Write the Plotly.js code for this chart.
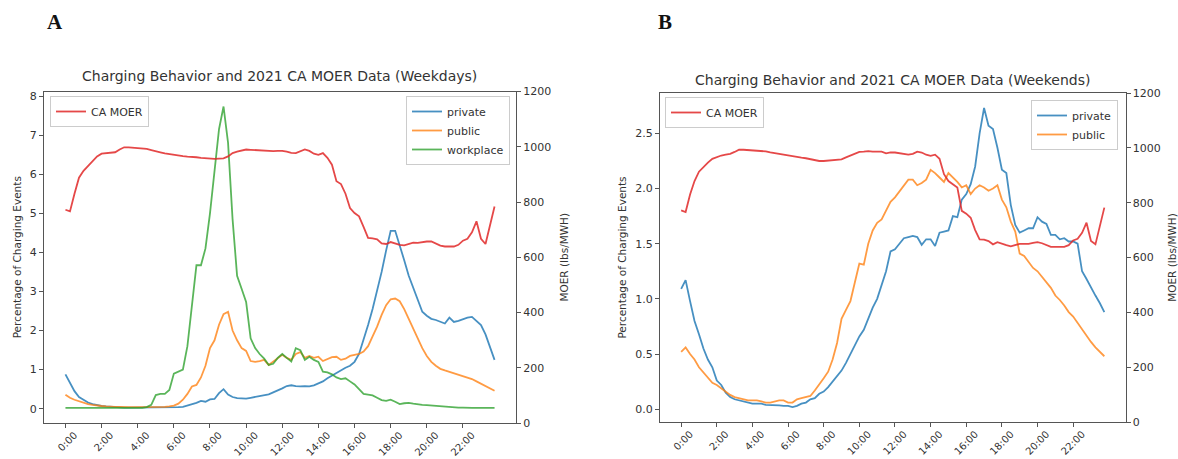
<!DOCTYPE html>
<html>
<head>
<meta charset="utf-8">
<script src="https://cdn.plot.ly/plotly-3.0.1.min.js"></script>
<style>html,body{margin:0;padding:0;background:#fff}#chart{width:1178px;height:459px}</style>
</head>
<body>
<div id="chart"></div>
<script>
// 15-minute time slots (categories)
const timeSlots = [];
for (let h = 0; h < 24; h++) for (let m = 0; m < 60; m += 15) timeSlots.push(h + ":" + (m === 0 ? "00" : m));
const tickLabels = ["0:00","2:00","4:00","6:00","8:00","10:00","12:00","14:00","16:00","18:00","20:00","22:00"];

// Panel A (weekdays)
const moerWeekday = [
 772,766,830,888, 913,930,950,965, 975,977,978,980, 990,998,998,997,
 996,995,992,988, 983,980,976,973, 971,968,966,964, 964,962,960,958,
 957,956,957,958, 965,977,982,986, 990,989,988,987, 985,983,984,985,
 985,982,978,977, 984,990,985,975, 971,977,960,935, 875,865,830,778,
 760,748,710,670, 668,665,650,648, 655,650,645,643, 648,653,652,655,
 657,657,650,642, 639,639,639,645, 660,667,690,730, 667,648,716,784];
const privateWeekday = [
 0.88,0.65,0.45,0.30, 0.22,0.16,0.12,0.09, 0.07,0.06,0.05,0.04, 0.04,0.03,0.03,0.03,
 0.03,0.03,0.03,0.03, 0.03,0.03,0.03,0.03, 0.03,0.04,0.05,0.08, 0.12,0.15,0.20,0.18,
 0.24,0.25,0.40,0.50, 0.36,0.30,0.27,0.26, 0.26,0.28,0.30,0.33, 0.35,0.37,0.42,0.46,
 0.52,0.58,0.60,0.58, 0.57,0.58,0.57,0.60, 0.65,0.70,0.78,0.85, 0.90,0.98,1.05,1.10,
 1.20,1.40,1.75,2.14, 2.55,3.00,3.50,4.05, 4.55,4.55,4.20,3.80, 3.40,3.10,2.75,2.48,
 2.38,2.30,2.27,2.22, 2.18,2.33,2.22,2.25, 2.30,2.33,2.35,2.25, 2.14,1.90,1.55,1.25];
const publicWeekday = [
 0.36,0.28,0.23,0.19, 0.15,0.12,0.10,0.08, 0.07,0.06,0.05,0.05, 0.05,0.04,0.04,0.04,
 0.04,0.04,0.04,0.04, 0.05,0.05,0.05,0.06, 0.08,0.13,0.23,0.38, 0.57,0.61,0.80,1.10,
 1.55,1.75,2.15,2.42, 2.48,2.00,1.75,1.55, 1.48,1.22,1.20,1.22, 1.25,1.12,1.20,1.30,
 1.38,1.30,1.25,1.40, 1.45,1.30,1.35,1.30, 1.33,1.22,1.28,1.32, 1.33,1.25,1.28,1.35,
 1.38,1.40,1.46,1.60, 1.85,2.10,2.40,2.65, 2.80,2.82,2.75,2.55, 2.30,2.05,1.80,1.55,
 1.35,1.20,1.10,1.02, 0.98,0.94,0.90,0.88, 0.84,0.80,0.76,0.70, 0.64,0.58,0.52,0.46];
const workplaceWeekday = [
 0.02,0.02,0.02,0.02, 0.02,0.02,0.02,0.02, 0.02,0.02,0.02,0.02, 0.02,0.02,0.02,0.02,
 0.02,0.02,0.04,0.10, 0.35,0.38,0.38,0.48, 0.90,0.95,1.00,1.60, 2.60,3.67,3.67,4.10,
 5.00,6.10,7.15,7.73, 6.80,4.85,3.40,3.07, 2.73,1.80,1.55,1.40, 1.28,1.12,1.15,1.30,
 1.40,1.30,1.21,1.55, 1.50,1.25,1.33,1.25, 1.20,0.95,0.93,0.88, 0.80,0.76,0.78,0.70,
 0.62,0.50,0.38,0.36, 0.34,0.28,0.22,0.20, 0.23,0.18,0.12,0.14, 0.15,0.13,0.11,0.10,
 0.09,0.08,0.07,0.06, 0.05,0.04,0.03,0.03, 0.03,0.02,0.02,0.02, 0.02,0.02,0.02,0.02];

// Panel B (weekends)
const moerWeekend = [
 772,766,830,879, 913,930,946,960, 967,972,975,978, 985,993,993,992,
 991,991,990,987, 983,980,977,974, 971,969,966,964, 962,958,955,952,
 952,953,955,955, 958,965,972,978, 985,986,988,986, 985,986,980,983,
 983,980,977,975, 978,986,983,975, 971,975,960,904, 879,867,855,770,
 760,745,700,666, 665,660,648,656, 650,645,641,645, 650,650,650,653,
 656,652,645,639, 639,639,639,645, 662,668,690,727, 660,648,715,782];
const privateWeekend = [
 1.09,1.17,0.98,0.80, 0.68,0.55,0.45,0.38, 0.26,0.22,0.15,0.11, 0.09,0.08,0.07,0.06,
 0.05,0.05,0.05,0.04, 0.04,0.04,0.035,0.03, 0.03,0.02,0.03,0.05, 0.06,0.09,0.10,0.14,
 0.16,0.20,0.25,0.30, 0.35,0.42,0.50,0.58, 0.66,0.72,0.82,0.92, 1.00,1.13,1.25,1.43,
 1.45,1.50,1.55,1.56, 1.57,1.56,1.49,1.54, 1.54,1.48,1.60,1.61, 1.62,1.75,1.74,1.90,
 1.95,2.04,2.20,2.50, 2.73,2.57,2.54,2.37, 2.17,2.14,1.85,1.67, 1.60,1.62,1.64,1.64,
 1.74,1.70,1.68,1.58, 1.58,1.54,1.55,1.52, 1.52,1.50,1.25,1.18, 1.10,1.03,0.96,0.88];
const publicWeekend = [
 0.52,0.56,0.50,0.45, 0.38,0.33,0.28,0.24, 0.22,0.19,0.16,0.13, 0.11,0.10,0.09,0.08,
 0.08,0.08,0.07,0.06, 0.06,0.07,0.08,0.08, 0.06,0.06,0.09,0.10, 0.11,0.12,0.17,0.22,
 0.28,0.34,0.45,0.60, 0.82,0.90,0.98,1.15, 1.32,1.31,1.50,1.62, 1.69,1.72,1.80,1.88,
 1.92,1.97,2.02,2.08, 2.08,2.03,2.05,2.08, 2.17,2.14,2.10,2.06, 2.14,2.10,2.06,2.01,
 2.03,1.95,2.00,2.03, 2.01,1.98,2.00,2.03, 1.90,1.83,1.70,1.61, 1.41,1.39,1.33,1.28,
 1.25,1.20,1.15,1.10, 1.03,0.99,0.94,0.88, 0.84,0.78,0.73,0.66, 0.61,0.56,0.52,0.48];

const C = {blue:"rgba(31,119,180,0.82)", orange:"rgba(255,127,14,0.78)", green:"rgba(44,160,44,0.78)", red:"rgba(224,40,40,0.85)"};
const FONT = "DejaVu Sans, sans-serif";
const TXT = "#333";
const LW = 1.8;

function tr(y, name, color, xa, ya, lg) {
  return {x: timeSlots, y: y, name: name, type: "scatter", mode: "lines",
    line: {color: color, width: LW}, xaxis: xa, yaxis: ya, legend: lg};
}

const data = [
  tr(moerWeekday, "CA MOER", C.red, "x", "y2", "legend"),
  tr(privateWeekday, "private", C.blue, "x", "y", "legend2"),
  tr(publicWeekday, "public", C.orange, "x", "y", "legend2"),
  tr(workplaceWeekday, "workplace", C.green, "x", "y", "legend2"),
  tr(moerWeekend, "CA MOER", C.red, "x2", "y4", "legend3"),
  tr(privateWeekend, "private", C.blue, "x2", "y3", "legend4"),
  tr(publicWeekend, "public", C.orange, "x2", "y3", "legend4")
];

const axisCommon = {showgrid: false, zeroline: false, showline: true, linecolor: "#555", linewidth: 1,
  ticks: "outside", ticklen: 4, tickcolor: "#555", tickfont: {family: FONT, size: 11, color: TXT}};

function xa(domain, anchor) {
  return Object.assign({}, axisCommon, {domain: domain, anchor: anchor, type: "category",
    range: [-4.75, 99.75], tickvals: tickLabels, ticktext: tickLabels, tickangle: -45,
    mirror: true, ticklabelshift: 9, ticklabelstandoff: -2, ticklen: 3.5,
    tickfont: {family: FONT, size: 10, color: TXT}});
}
function yl(domain, anchor, range, dtick, fmt) {
  return Object.assign({}, axisCommon, {domain: domain, anchor: anchor, range: range, dtick: dtick,
    tick0: 0, tickformat: fmt, side: "left",
    title: {text: "Percentage of Charging Events", font: {family: FONT, size: 10.5, color: TXT}, standoff: 6}});
}
function yr(overlay, anchor) {
  return Object.assign({}, axisCommon, {overlaying: overlay, anchor: anchor, side: "right", range: [0, 1200], dtick: 200,
    title: {text: "MOER (lbs/MWH)", font: {family: FONT, size: 10.5, color: TXT}, standoff: 10}});
}

const legendBase = {bgcolor: "rgba(255,255,255,0.8)", bordercolor: "#ccc", borderwidth: 1,
  font: {family: FONT, size: 11, color: TXT}, xanchor: "left", yanchor: "top", itemwidth: 30,
  tracegroupgap: 0};

const yDomA = [1 - 423/459, 1 - 91.5/459];
const yDomB = [1 - 422/459, 1 - 93/459];

const layout = {
  width: 1178, height: 459,
  margin: {l: 0, r: 0, t: 0, b: 0},
  paper_bgcolor: "#fff", plot_bgcolor: "rgba(0,0,0,0)",
  showlegend: true,
  xaxis: xa([44/1178, 516/1178], "y"),
  yaxis: yl(yDomA, "x", [-0.365, 8.115], 1, "d"),
  yaxis2: yr("y", "x"),
  xaxis2: xa([660/1178, 1125.5/1178], "y3"),
  yaxis3: yl(yDomB, "x2", [-0.116, 2.866], 0.5, ".1f"),
  yaxis4: yr("y3", "x2"),
  legend: Object.assign({}, legendBase, {x: 50/1178, y: 1 - 96/459}),
  legend2: Object.assign({}, legendBase, {x: 510/1178, y: 1 - 96/459, xanchor: "right"}),
  legend3: Object.assign({}, legendBase, {x: 665/1178, y: 1 - 97/459}),
  legend4: Object.assign({}, legendBase, {x: 1118/1178, y: 1 - 100/459, xanchor: "right"}),
  annotations: [
    {text: "<b>A</b>", xref: "paper", yref: "paper", x: 55/1178, y: 1 - 22/459, xanchor: "center", yanchor: "middle",
     showarrow: false, font: {family: "Liberation Serif, serif", size: 21, color: "#111"}},
    {text: "<b>B</b>", xref: "paper", yref: "paper", x: 665/1178, y: 1 - 22/459, xanchor: "center", yanchor: "middle",
     showarrow: false, font: {family: "Liberation Serif, serif", size: 21, color: "#111"}},
    {text: "Charging Behavior and 2021 CA MOER Data (Weekdays)", xref: "paper", yref: "paper",
     x: 279/1178, y: 1 - 76/459, xanchor: "center", yanchor: "middle", showarrow: false,
     font: {family: FONT, size: 14, color: TXT}},
    {text: "Charging Behavior and 2021 CA MOER Data (Weekends)", xref: "paper", yref: "paper",
     x: 892/1178, y: 1 - 80/459, xanchor: "center", yanchor: "middle", showarrow: false,
     font: {family: FONT, size: 14, color: TXT}}
  ]
};

Plotly.newPlot("chart", data, layout, {staticPlot: true, displayModeBar: false});
</script>
</body>
</html>
